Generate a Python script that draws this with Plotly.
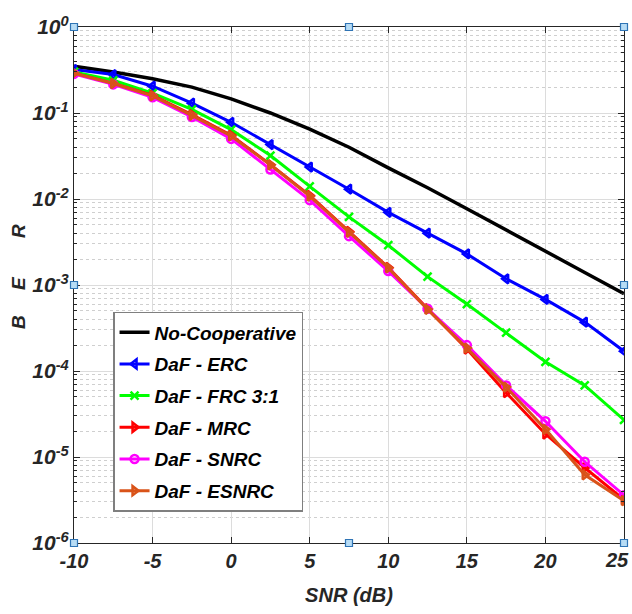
import plotly.graph_objects as go

snr = [-10, -7.5, -5, -2.5, 0, 2.5, 5, 7.5, 10, 12.5, 15, 17.5, 20, 22.5, 25]

ber_noncoop = [0.35, 0.30, 0.25, 0.20, 0.146, 0.100, 0.065, 0.040, 0.023, 0.0135, 0.0077, 0.0044, 0.0025, 0.0014, 0.00079]
ber_erc = [0.32, 0.28, 0.205, 0.13, 0.078, 0.043, 0.0235, 0.0130, 0.0070, 0.0040, 0.0023, 0.00118, 0.00068, 0.00037, 0.000170]
ber_frc = [0.30, 0.24, 0.17, 0.11, 0.064, 0.032, 0.0140, 0.0062, 0.0029, 0.00125, 0.00060, 0.00028, 0.000128, 6.8e-5, 2.7e-5]
ber_mrc = [0.29, 0.22, 0.16, 0.096, 0.055, 0.025, 0.0110, 0.0042, 0.0016, 0.00053, 0.00018, 5.6e-5, 1.85e-5, 7.5e-6, 3.2e-6]
ber_snrc = [0.285, 0.215, 0.152, 0.090, 0.050, 0.022, 0.0097, 0.0037, 0.00145, 0.00053, 0.00020, 6.8e-5, 2.6e-5, 8.8e-6, 3.6e-6]
ber_esnrc = [0.29, 0.22, 0.158, 0.094, 0.054, 0.025, 0.0108, 0.0041, 0.00158, 0.00052, 0.000185, 6.5e-5, 2.1e-5, 6.2e-6, 3.1e-6]

names = ["No-Cooperative", "DaF - ERC", "DaF - FRC 3:1", "DaF - MRC", "DaF - SNRC", "DaF - ESNRC"]
series = [ber_noncoop, ber_erc, ber_frc, ber_mrc, ber_snrc, ber_esnrc]
colors = ["#000000", "#0000FF", "#00FF00", "#FF0000", "#FF00FF", "#D95319"]
symbols = [None, "triangle-left-open", "x-thin-open", "triangle-right-open", "circle-open", "triangle-right-open"]

y_tickvals = [1e-6, 1e-5, 1e-4, 1e-3, 1e-2, 1e-1, 1e0]
y_ticktext = ["10<sup>-6</sup>", "10<sup>-5</sup>", "10<sup>-4</sup>", "10<sup>-3</sup>", "10<sup>-2</sup>", "10<sup>-1</sup>", "10<sup>0</sup>"]
x_tickvals = [-10, -5, 0, 5, 10, 15, 20, 25]
x_ticktext = ["-10", "-5", "0", "5", "10", "15", "20", "25"]

FONT = "Liberation Sans, Arial, sans-serif"

fig = go.Figure()
for i, (name, ys, c, s) in enumerate(zip(names, series, colors, symbols)):
    if s is None:
        fig.add_trace(go.Scatter(x=snr, y=ys, name=name, mode="lines", legendgroup=f"g{i}",
                                 line=dict(color=c, width=3.5)))
    else:
        fig.add_trace(go.Scatter(x=snr, y=ys, name=name, mode="lines+markers", legendgroup=f"g{i}",
                                 line=dict(color=c, width=3),
                                 marker=dict(symbol=s, size=8, color=c,
                                             line=dict(color=c, width=2.5))))

axis_color = "#262626"
fig.update_layout(
    width=632, height=614,
    margin=dict(l=74, r=8, t=27, b=71),
    paper_bgcolor="white", plot_bgcolor="white",
    font=dict(family=FONT, size=19, color="#262626", weight="bold", style="italic"),
    showlegend=True,
    legend=dict(x=0.071, y=0.448, xanchor="left", yanchor="top",
                bgcolor="white", bordercolor="#7f7f7f", borderwidth=1.5,
                font=dict(family=FONT, size=19, color="black", weight="bold", style="italic"),
                itemwidth=30, tracegroupgap=4),
    xaxis=dict(range=[-10, 25], tickvals=x_tickvals[:-1], ticktext=x_ticktext[:-1],
               ticks="inside", ticklen=6,
               tickcolor=axis_color, showline=True, linecolor=axis_color, linewidth=1.2,
               mirror="ticks", showgrid=True, gridcolor="#dcdcdc", gridwidth=1,
               zeroline=False, tickfont=dict(size=20), automargin=False,
               title=dict(text="SNR (dB)", font=dict(size=20), standoff=16)),
    yaxis=dict(type="log", range=[-6, 0], tickvals=y_tickvals, ticktext=y_ticktext,
               ticks="inside", ticklen=6, tickcolor=axis_color, showline=True,
               linecolor=axis_color, linewidth=1.2, mirror="ticks", automargin=False,
               showgrid=True, gridcolor="#dcdcdc", gridwidth=1, zeroline=False,
               tickfont=dict(size=21),
               minor=dict(dtick="D1", ticks="inside", ticklen=3, tickcolor=axis_color,
                          showgrid=True, gridcolor="#cfcfcf", griddash="dot", gridwidth=1)),
)

# last x tick label, kept inside the page edge
fig.add_annotation(text=x_ticktext[-1], x=x_tickvals[-1], xref="x", y=0, yref="paper",
                   xanchor="right", yanchor="top", xshift=7, yshift=-4, showarrow=False,
                   font=dict(size=20, color="#262626"))

# y-axis label: spaced letters B E R
for txt, ypx in [("B", 322), ("E", 283), ("R", 231)]:
    fig.add_annotation(text=txt, xref="paper", yref="paper",
                       x=(18 - 74) / 550, y=(543 - ypx) / 516,
                       xanchor="center", yanchor="middle", textangle=-90,
                       showarrow=False, font=dict(size=19, color="#262626"))

# selection handles on the axes box (corners and edge midpoints)
handle_pos = [(0, 0), (0.5, 0), (1, 0), (0, 0.5), (1, 0.5), (0, 1), (0.5, 1), (1, 1)]
for xp, yp in handle_pos:
    fig.add_shape(type="rect", xref="paper", yref="paper",
                  xsizemode="pixel", ysizemode="pixel",
                  xanchor=xp, yanchor=yp, x0=-3.5, x1=3.5, y0=-3.5, y1=3.5,
                  fillcolor="#b7dcf5", line=dict(color="#2f74b5", width=1.2),
                  layer="above")

fig.write_html("out.html", config={"displayModeBar": False},
               post_script="document.body.style.margin='0';document.body.style.overflow='hidden';")
